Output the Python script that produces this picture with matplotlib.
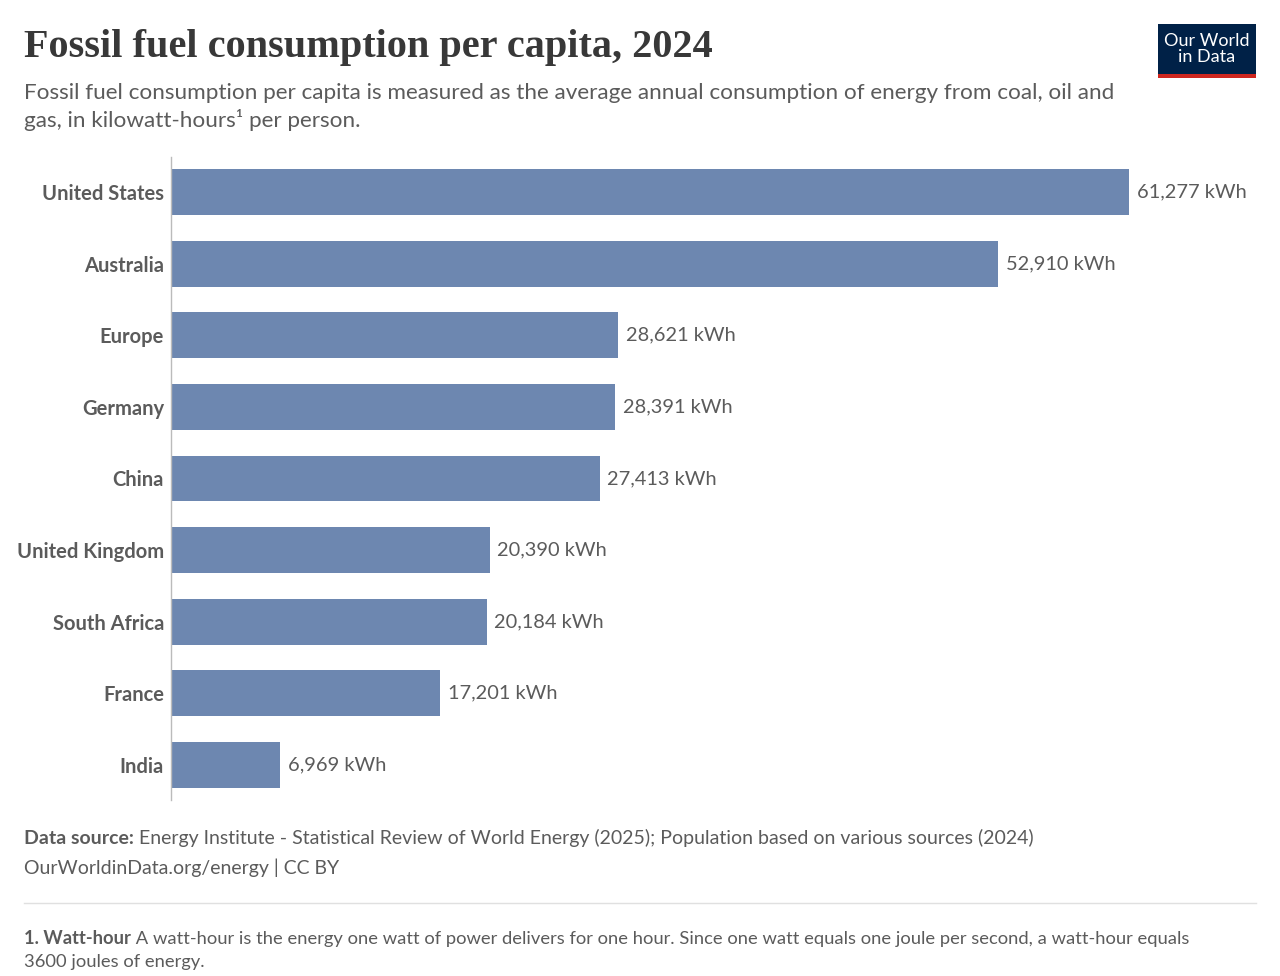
import matplotlib
matplotlib.use('Agg')
import matplotlib.pyplot as plt
from matplotlib.patches import Rectangle

countries = ['United States', 'Australia', 'Europe', 'Germany', 'China',
             'United Kingdom', 'South Africa', 'France', 'India']
values = [61277, 52910, 28621, 28391, 27413, 20390, 20184, 17201, 6969]

title = 'Fossil fuel consumption per capita, 2024'
subtitle = ('Fossil fuel consumption per capita is measured as the average annual consumption of energy from coal, oil and\n'
            'gas, in kilowatt-hours\u00b9 per person.')
source_bold = 'Data source:'
source_rest = ' Energy Institute - Statistical Review of World Energy (2025); Population based on various sources (2024)'
source_line2 = 'OurWorldinData.org/energy | CC BY'
note_bold = '1. Watt-hour'
note_rest = (' A watt-hour is the energy one watt of power delivers for one hour. Since one watt equals one joule per second, a watt-hour equals')
note_line2 = '3600 joules of energy.'

W, H = 1280, 976
fig = plt.figure(figsize=(W / 100, H / 100), dpi=100)
plt.rcParams['font.family'] = ['Lato', 'DejaVu Sans']

bar_color = '#6d87b0'
text_gray = '#5b5b5b'


def px(x, y):
    return x / W, 1 - y / H


# chart area
ax = fig.add_axes([171 / W, 1 - 800 / H, (1129 - 171) / W, (800 - 157) / H])
ypos = list(range(len(countries)))
ax.barh(ypos, values, height=0.64, color=bar_color)
ax.set_xlim(0, max(values))
ax.set_ylim(len(countries) - 0.51, -0.49)
ax.set_yticks(ypos)
ax.set_yticklabels(countries, fontsize=14.5, fontweight='bold', color=text_gray)
ax.tick_params(axis='y', length=0, pad=5)
ax.set_xticks([])
for s in ['top', 'right', 'bottom']:
    ax.spines[s].set_visible(False)
ax.spines['left'].set_color('#bbbbbb')
ax.spines['left'].set_linewidth(1)

for y, v in zip(ypos, values):
    ax.text(v + max(values) * 0.008, y, f'{v:,} kWh', va='center', ha='left',
            fontsize=14.4, color=text_gray, clip_on=False)

# header
fig.text(*px(24, 47), title, fontsize=29, fontweight='bold',
         family=['Liberation Serif', 'DejaVu Serif'],
         color='#383838', va='center', ha='left')
fig.text(*px(24, 107), subtitle, fontsize=16.2, color=text_gray, va='center', ha='left',
         linespacing=1.3)

# logo
fig.patches.append(Rectangle(px(1158, 78), 98 / W, 54 / H, transform=fig.transFigure,
                             facecolor='#002147', edgecolor='none'))
fig.patches.append(Rectangle(px(1158, 78), 98 / W, 4 / H, transform=fig.transFigure,
                             facecolor='#ce261e', edgecolor='none'))
fig.text(*px(1207, 49), 'Our World\nin Data', fontsize=13, color='white',
         ha='center', va='center', linespacing=0.95)

renderer = fig.canvas.get_renderer()


def mixed(x, y, bold, rest, size):
    t = fig.text(*px(x, y), bold, fontsize=size, fontweight='bold', color=text_gray,
                 va='center', ha='left')
    bb = t.get_window_extent(renderer)
    fig.text(bb.x1 / W, 1 - y / H, rest, fontsize=size, color=text_gray,
             va='center', ha='left')


mixed(24, 838, source_bold, source_rest, 14)
fig.text(*px(24, 868), source_line2, fontsize=14, color=text_gray, va='center', ha='left')

fig.add_artist(plt.Line2D([24 / W, 1256 / W], [1 - 903 / H, 1 - 903 / H],
                          color='#e0e0e0', linewidth=1))

mixed(24, 939, note_bold, note_rest, 13.2)
fig.text(*px(24, 962), note_line2, fontsize=13.2, color=text_gray, va='center', ha='left')

fig.savefig('out.png', dpi=100, facecolor='white')
